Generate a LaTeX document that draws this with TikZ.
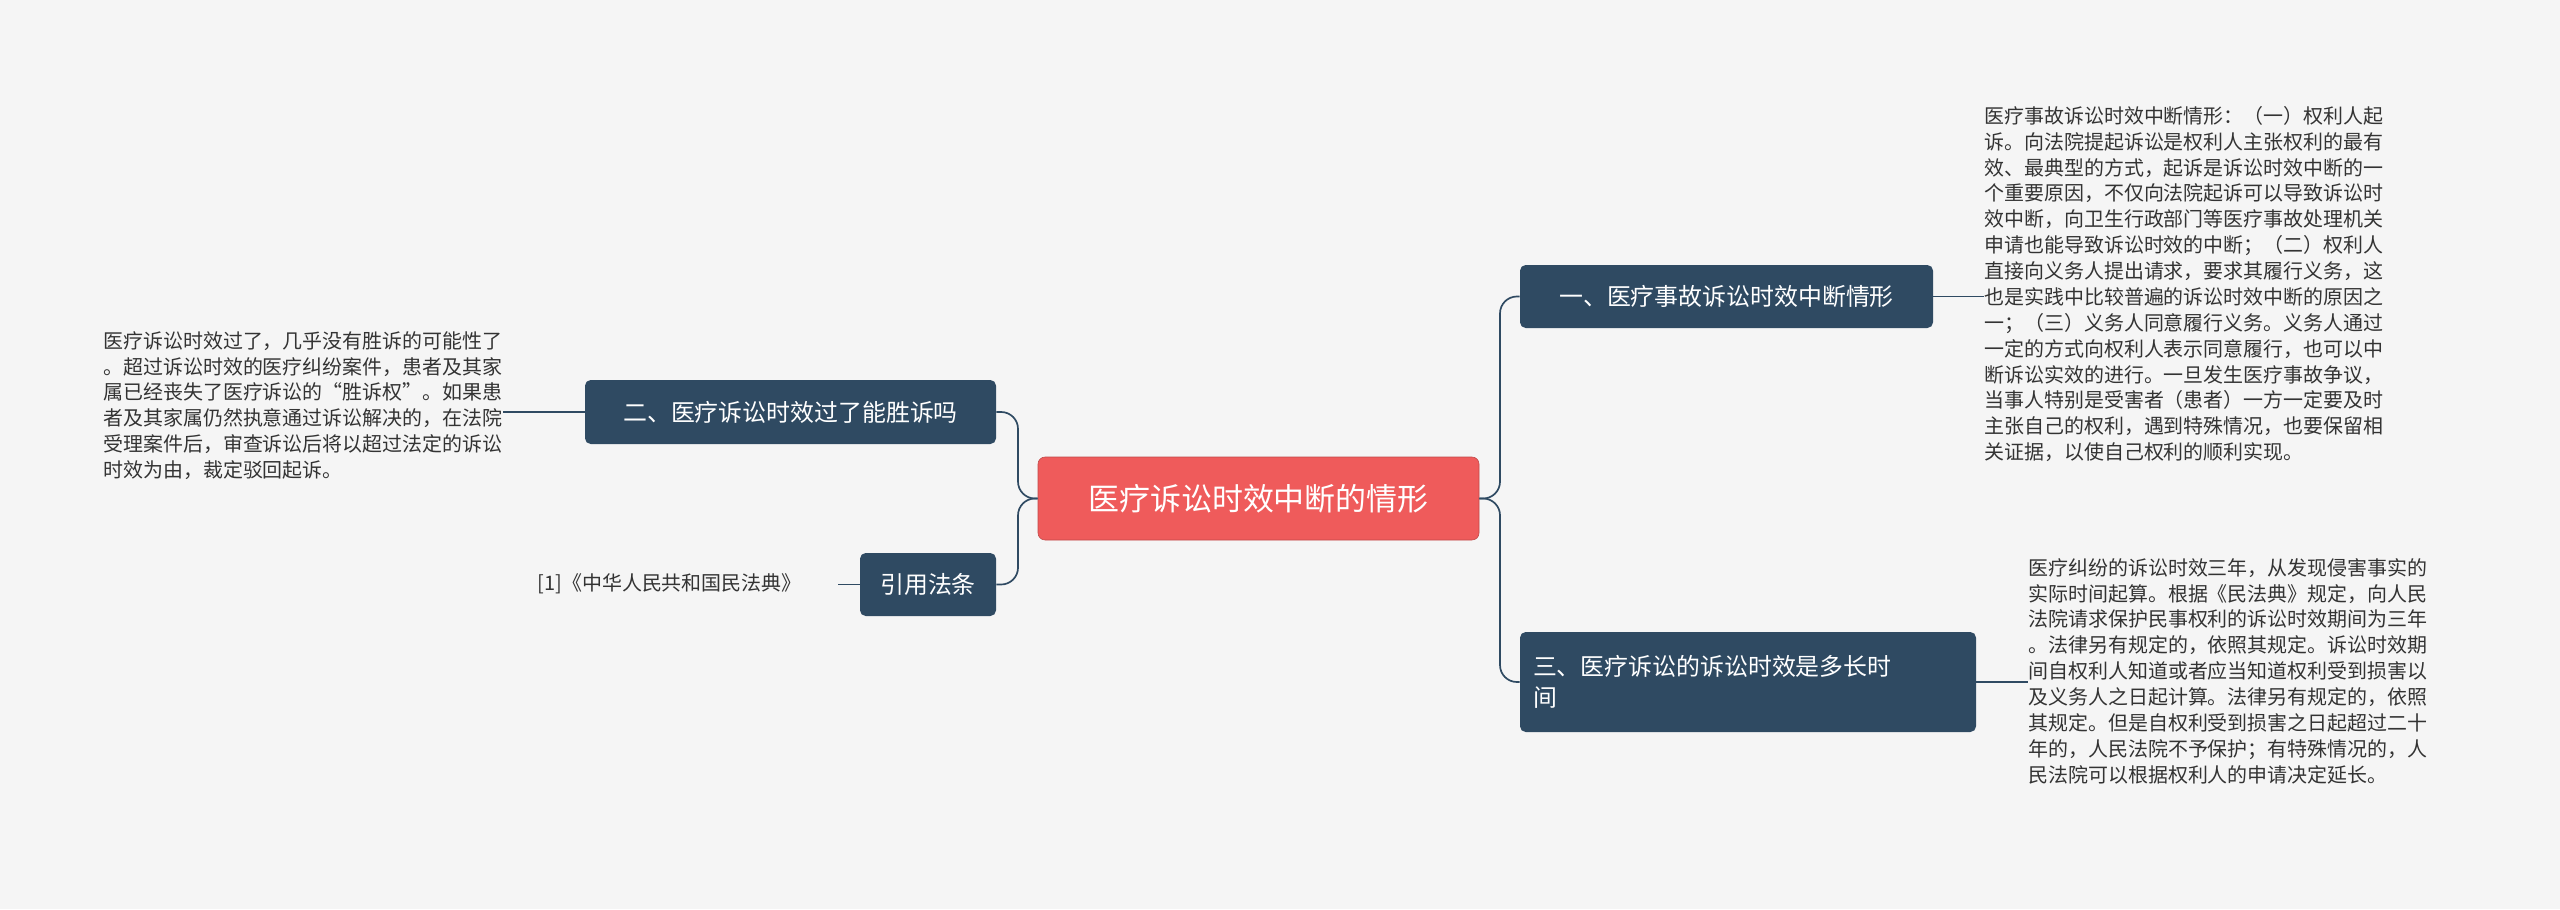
\documentclass[tikz,border=0pt]{standalone}
\usepackage{fontspec}
\setmainfont{Noto Sans CJK SC}
\usetikzlibrary{positioning, calc}
\definecolor{bgc}{HTML}{F5F5F5}
\definecolor{topic}{HTML}{2F4A62}
\definecolor{rootc}{HTML}{EF5B5B}
\definecolor{leafc}{HTML}{333333}

\begin{document}
\begin{tikzpicture}[
    x=0.25mm, y=-0.25mm,
    root/.style={
        rectangle,
        rounded corners=5pt,
        fill=rootc,
        draw=rootc!80!black,
        text=white,
        inner sep=0pt,
        font=\fontsize{22}{26}\selectfont
    },
    topicbox/.style={
        rectangle,
        rounded corners=4pt,
        fill=topic,
        text=white,
        inner sep=0pt,
        font=\fontsize{17}{22}\selectfont
    },
    leaf/.style={
        align=left,
        anchor=north west,
        inner sep=0pt,
        text=leafc,
        font=\fontsize{14.2}{18.4}\selectfont
    },
    link/.style={draw=topic, line width=1.2pt, rounded corners=12pt}
]
    % Background
    \fill[bgc] (0,0) rectangle (2560,909);

    % Root and topics
    \node[root, minimum width=441*0.25mm, minimum height=83*0.25mm] (root) at (1258.5,498.5) {医疗诉讼时效中断的情形};
    \node[topicbox, minimum width=413*0.25mm, minimum height=63*0.25mm] (t1) at (1726.5,296.5) {一、医疗事故诉讼时效中断情形};
    \node[topicbox, minimum width=456*0.25mm, minimum height=100*0.25mm, align=left, text width=430*0.25mm] (t3) at (1748,682) {三、医疗诉讼的诉讼时效是多长时\\间};
    \node[topicbox, minimum width=411*0.25mm, minimum height=64*0.25mm] (t2) at (790.5,412) {二、医疗诉讼时效过了能胜诉吗};
    \node[topicbox, minimum width=136*0.25mm, minimum height=63*0.25mm] (t4) at (928,584.5) {引用法条};

    % Leaf texts
    \node[leaf] (l1) at (1984,106) {医疗事故诉讼时效中断情形：（一）权利人起\\诉。向法院提起诉讼是权利人主张权利的最有\\效、最典型的方式，起诉是诉讼时效中断的一\\个重要原因，不仅向法院起诉可以导致诉讼时\\效中断，向卫生行政部门等医疗事故处理机关\\申请也能导致诉讼时效的中断；（二）权利人\\直接向义务人提出请求，要求其履行义务，这\\也是实践中比较普遍的诉讼时效中断的原因之\\一；（三）义务人同意履行义务。义务人通过\\一定的方式向权利人表示同意履行，也可以中\\断诉讼实效的进行。一旦发生医疗事故争议，\\当事人特别是受害者（患者）一方一定要及时\\主张自己的权利，遇到特殊情况，也要保留相\\关证据，以使自己权利的顺利实现。};
    \node[leaf] (l3) at (2028,558) {医疗纠纷的诉讼时效三年，从发现侵害事实的\\实际时间起算。根据《民法典》规定，向人民\\法院请求保护民事权利的诉讼时效期间为三年\\。法律另有规定的，依照其规定。诉讼时效期\\间自权利人知道或者应当知道权利受到损害以\\及义务人之日起计算。法律另有规定的，依照\\其规定。但是自权利受到损害之日起超过二十\\年的，人民法院不予保护；有特殊情况的，人\\民法院可以根据权利人的申请决定延长。};
    \node[leaf] (l2) at (103,331) {医疗诉讼时效过了，几乎没有胜诉的可能性了\\。超过诉讼时效的医疗纠纷案件，患者及其家\\属已经丧失了医疗诉讼的“胜诉权”。如果患\\者及其家属仍然执意通过诉讼解决的，在法院\\受理案件后，审查诉讼后将以超过法定的诉讼\\时效为由，裁定驳回起诉。};
    \node[leaf, anchor=east] (l4) at (802,584) {[1]《中华人民共和国民法典》};

    % Connectors
    \coordinate (jr) at (1500,498.5);
    \coordinate (jl) at (1018,498.5);
    \draw[link] (root.east) -- (jr) |- (t1.west);
    \draw[link] (root.east) -- (jr) |- (t3.west);
    \draw[link] (root.west) -- (jl) |- (t2.west -| t2.east) ;
    \draw[link] (root.west) -- (jl) |- (t4.east);
    \draw[link] (t1.east) -- (l1.west |- t1.east);
    \draw[link] (t3.east) -- (l3.west |- t3.east);
    \draw[link] (t2.west) -- (l2.east |- t2.west);
    \draw[link] (t4.west) -- ++(-22,0);
\end{tikzpicture}
\end{document}
